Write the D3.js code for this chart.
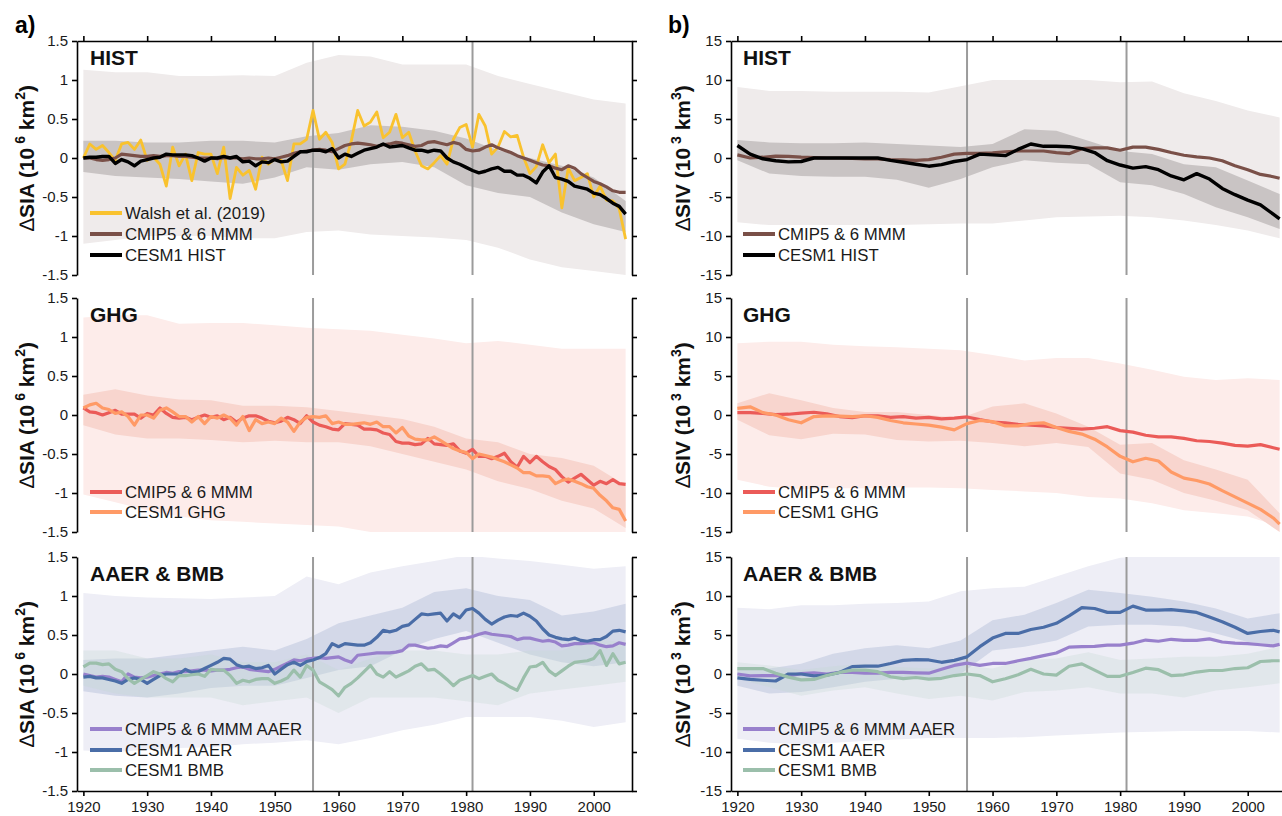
<!DOCTYPE html>
<html><head><meta charset="utf-8">
<script src="https://cdn.jsdelivr.net/npm/d3@7"></script>
<style>
body{margin:0;background:#fff}
svg text{font-family:"Liberation Sans",Arial,Helvetica,sans-serif}
</style>
</head><body>
<svg id="c" width="1282" height="816"></svg>
<script>
// ---------- categories ----------
const yearsAnnual = d3.range(1920, 2006);
const yearsSIV = [1920,1922,1924,1926,1928,1930,1932,1934,1936,1938,1940,1942,1944,1946,1948,1950,1952,1954,1956,1958,
  1960,1962,1964,1966,1968,1970,1972,1974,1976,1978,1980,1982,1984,1986,1988,1990,1992,1994,1996,1998,2000,2002,2004,2005];
const yearsBand = [1920,1925,1930,1935,1940,1945,1950,1955,1960,1965,1970,1975,1980,1985,1990,1995,2000,2005];
const markYears = [1956, 1981];
const xTickYears = [1920,1930,1940,1950,1960,1970,1980,1990,2000];
const siaTicks = [-1.5,-1,-0.5,0,0.5,1,1.5];
const siaTickLabels = ["-1.5","-1","-0.5","0","0.5","1","1.5"];
const sivTicks = [-15,-10,-5,0,5,10,15];
const sivTickLabels = ["-15","-10","-5","0","5","10","15"];

// ---------- HIST: sea ice area (10^6 km2) ----------
const walshSIA = [0.0,0.18,0.11,0.16,0.07,-0.03,0.18,0.2,0.11,0.23,
 -0.03,0.01,-0.08,-0.36,0.14,-0.1,0.05,-0.29,0.07,0.05,
 0.05,-0.2,0.14,-0.52,-0.12,-0.22,-0.16,-0.4,0.01,-0.08,
 -0.01,-0.03,-0.29,0.18,0.18,0.24,0.61,0.24,0.33,0.2,
 -0.14,-0.08,0.22,0.61,0.41,0.46,0.59,0.26,0.33,0.56,
 0.26,0.33,0.09,-0.1,-0.14,-0.06,0.03,-0.08,0.24,0.39,
 0.43,0.14,0.56,0.41,0.05,0.14,0.34,0.27,0.29,0.01,
 -0.2,-0.11,0.17,-0.06,0.05,-0.64,-0.13,-0.29,-0.25,-0.2,
 -0.5,-0.36,-0.54,-0.55,-0.65,-1.04];
const cmipHistSIA = [0.0,0.0,-0.02,-0.03,-0.02,0.0,0.05,0.04,0.03,0.02,
 0.02,0.03,0.02,0.03,0.03,0.02,0.02,0.01,0.0,0.0,
 0.0,-0.01,0.0,0.0,0.0,-0.01,0.0,-0.01,-0.01,0.0,
 -0.01,0.01,0.03,0.06,0.08,0.09,0.1,0.11,0.1,0.08,
 0.12,0.16,0.18,0.19,0.18,0.17,0.15,0.17,0.18,0.2,
 0.19,0.17,0.15,0.16,0.2,0.21,0.19,0.17,0.2,0.18,
 0.11,0.09,0.1,0.14,0.17,0.13,0.1,0.07,0.03,0.0,
 -0.03,-0.06,-0.09,-0.1,-0.13,-0.15,-0.1,-0.13,-0.2,-0.25,
 -0.3,-0.33,-0.37,-0.42,-0.44,-0.44];
const cesmHistSIA = [0.0,0.01,0.01,0.02,0.02,-0.07,-0.02,-0.05,-0.1,-0.04,
 -0.02,0.0,0.01,0.05,0.04,0.04,0.04,0.03,0.0,-0.04,
 0.0,0.0,0.02,0.0,0.02,-0.05,-0.04,-0.1,-0.05,-0.06,
 -0.02,-0.05,-0.04,0.02,0.08,0.08,0.1,0.1,0.08,0.12,
 0.0,0.05,0.02,0.06,0.1,0.12,0.14,0.18,0.14,0.15,
 0.16,0.13,0.1,0.1,0.08,0.1,0.09,0.0,-0.05,-0.08,
 -0.12,-0.16,-0.19,-0.17,-0.14,-0.12,-0.17,-0.17,-0.22,-0.22,
 -0.26,-0.32,-0.18,-0.1,-0.25,-0.27,-0.3,-0.36,-0.38,-0.4,
 -0.45,-0.47,-0.52,-0.58,-0.62,-0.72];
const histSiaOuterHi = [1.13,1.1,1.1,1.05,1.05,1.06,1.05,1.22,1.32,1.3,1.2,1.2,1.2,1.05,0.95,0.85,0.75,0.7];
const histSiaOuterLo = [-1.1,-1.05,-1.0,-1.0,-1.0,-1.03,-1.03,-0.95,-0.93,-0.98,-1.0,-1.02,-1.05,-1.15,-1.3,-1.4,-1.45,-1.5];
const histSiaInnerHi = [0.22,0.22,0.2,0.2,0.22,0.22,0.2,0.28,0.32,0.42,0.4,0.35,0.25,0.1,0.0,-0.1,-0.25,-0.55];
const histSiaInnerLo = [-0.18,-0.23,-0.25,-0.27,-0.3,-0.33,-0.25,-0.12,-0.15,-0.08,-0.05,-0.12,-0.35,-0.45,-0.5,-0.7,-0.85,-0.95];

// ---------- HIST: sea ice volume (10^3 km3) ----------
const cmipHistSIV = [0.4,0.0,0.1,0.25,0.2,0.1,0.05,0.0,0.0,-0.05,
 -0.1,-0.1,-0.2,-0.25,-0.3,-0.2,0.1,0.5,0.6,0.6,
 0.65,0.8,0.9,0.9,0.9,0.7,0.55,1.2,1.3,1.3,
 1.0,1.4,1.4,1.1,0.7,0.35,0.15,0.0,-0.35,-1.0,
 -1.5,-2.1,-2.4,-2.6];
const cesmHistSIV = [1.6,0.5,-0.1,-0.35,-0.5,-0.45,0.0,0.0,0.0,0.0,
 0.0,0.0,-0.3,-0.55,-0.8,-1.05,-0.85,-0.45,-0.2,0.5,
 0.4,0.3,1.1,1.8,1.5,1.5,1.45,1.2,0.7,-0.35,
 -0.9,-1.3,-1.1,-1.5,-2.3,-2.8,-2.0,-2.7,-3.9,-4.7,
 -5.4,-6.0,-7.2,-7.8];
const histSivOuterHi = [9.1,8.6,8.6,8.5,8.5,8.5,8.4,9.2,10.0,10.0,10.0,10.0,9.7,9.8,8.3,7.3,6.1,5.2];
const histSivOuterLo = [-8.25,-8.6,-8.6,-8.6,-8.6,-8.6,-8.5,-8.4,-8.4,-8.0,-7.6,-7.5,-7.4,-7.6,-8.0,-8.6,-9.3,-10.3];
const histSivInnerHi = [2.3,2.0,1.9,1.9,2.0,1.8,1.6,1.4,1.8,3.7,3.5,2.2,0.9,0.5,-0.8,-1.2,-2.9,-4.6];
const histSivInnerLo = [-0.3,-2.0,-2.3,-2.4,-2.4,-2.8,-3.8,-2.7,-1.2,-0.3,-0.6,-0.8,-3.1,-3.5,-4.6,-6.3,-7.6,-9.1];

// ---------- GHG: sea ice area ----------
const cmipGhgSIA = [0.09,0.04,0.03,0.0,0.03,0.06,0.01,0.01,0.01,-0.04,
 0.02,0.0,0.09,0.02,-0.03,-0.04,-0.03,-0.06,-0.03,0.0,
 -0.03,-0.01,-0.06,-0.03,-0.09,-0.04,-0.01,-0.01,-0.04,-0.08,
 -0.1,-0.08,-0.03,-0.06,-0.11,-0.01,-0.09,-0.13,-0.15,-0.18,
 -0.19,-0.11,-0.12,-0.13,-0.18,-0.18,-0.19,-0.23,-0.25,-0.34,
 -0.36,-0.36,-0.38,-0.37,-0.3,-0.37,-0.38,-0.39,-0.37,-0.46,
 -0.49,-0.44,-0.53,-0.53,-0.56,-0.53,-0.49,-0.6,-0.67,-0.53,
 -0.61,-0.53,-0.6,-0.66,-0.7,-0.79,-0.86,-0.81,-0.76,-0.83,
 -0.9,-0.85,-0.88,-0.83,-0.88,-0.89];
const cesmGhgSIA = [0.09,0.13,0.15,0.09,0.07,0.02,0.04,-0.02,-0.13,0.0,
 0.0,-0.04,0.06,0.09,0.04,-0.02,-0.02,-0.09,-0.02,-0.11,
 -0.02,-0.04,0.0,-0.04,-0.13,-0.02,-0.2,-0.06,-0.11,-0.09,
 -0.11,-0.04,-0.09,-0.21,-0.09,-0.03,-0.02,-0.03,-0.01,-0.11,
 -0.09,-0.12,-0.12,-0.11,-0.1,-0.12,-0.09,-0.15,-0.15,-0.23,
 -0.16,-0.27,-0.31,-0.32,-0.32,-0.28,-0.33,-0.38,-0.43,-0.46,
 -0.48,-0.56,-0.5,-0.52,-0.54,-0.57,-0.6,-0.64,-0.68,-0.74,
 -0.74,-0.78,-0.78,-0.79,-0.88,-0.84,-0.82,-0.85,-0.88,-0.92,
 -0.94,-1.03,-1.1,-1.19,-1.21,-1.36];
const ghgSiaOuterHi = [1.25,1.28,1.28,1.17,1.18,1.18,1.15,1.12,1.1,1.08,1.03,0.98,0.92,0.95,0.9,0.85,0.85,0.85];
const ghgSiaOuterLo = [-1.02,-1.12,-1.22,-1.3,-1.35,-1.37,-1.39,-1.41,-1.43,-1.5,-1.55,-1.55,-1.55,-1.55,-1.55,-1.55,-1.55,-1.55];
const ghgSiaInnerHi = [0.26,0.33,0.25,0.2,0.19,0.12,0.12,0.1,0.05,0.0,-0.05,-0.15,-0.3,-0.35,-0.5,-0.55,-0.65,-0.9];
const ghgSiaInnerLo = [-0.13,-0.25,-0.3,-0.3,-0.32,-0.35,-0.33,-0.35,-0.35,-0.4,-0.5,-0.6,-0.7,-0.85,-0.95,-1.1,-1.2,-1.45];

// ---------- GHG: sea ice volume ----------
const cmipGhgSIV = [0.3,0.3,0.2,0.05,0.1,0.25,0.35,0.15,-0.2,-0.35,
 -0.1,-0.1,-0.3,-0.2,-0.4,-0.3,-0.5,-0.4,-0.25,-0.6,
 -0.9,-1.0,-1.2,-1.3,-1.4,-1.6,-1.7,-1.8,-1.7,-1.5,
 -2.0,-2.2,-2.6,-2.8,-2.8,-3.0,-3.3,-3.4,-3.6,-3.9,
 -4.0,-3.8,-4.2,-4.4];
const cesmGhgSIV = [0.85,1.05,0.3,0.0,-0.6,-1.0,-0.2,-0.1,-0.15,-0.2,
 -0.1,-0.3,-0.7,-1.0,-1.15,-1.3,-1.55,-1.9,-1.1,-0.7,
 -0.85,-1.4,-1.4,-1.1,-1.0,-1.6,-2.1,-2.45,-3.1,-4.1,
 -5.3,-6.0,-5.55,-5.9,-7.3,-8.1,-8.4,-8.85,-9.7,-10.5,
 -11.3,-12.1,-13.2,-14.0];
const ghgSivOuterHi = [9.2,9.4,9.4,9.0,8.8,8.7,8.5,8.3,7.7,7.0,7.3,7.3,6.6,5.8,4.9,4.5,4.7,4.5];
const ghgSivOuterLo = [-8.3,-9.2,-9.5,-9.4,-9.4,-9.3,-9.3,-9.4,-9.6,-9.8,-10.0,-10.5,-10.7,-11.3,-12.2,-12.6,-13.0,-14.3];
const ghgSivInnerHi = [1.5,2.8,1.9,0.9,0.4,0.4,0.0,-0.4,1.1,1.5,0.2,-1.5,-3.8,-3.6,-5.8,-7.0,-8.3,-12.6];
const ghgSivInnerLo = [-0.6,-2.6,-3.1,-2.4,-2.5,-3.2,-3.4,-3.3,-3.6,-4.0,-3.6,-4.1,-7.5,-8.3,-10.0,-11.0,-12.2,-15.0];

// ---------- AAER & BMB: sea ice area ----------
const cmipAaerSIA = [0.0,-0.02,-0.04,-0.03,-0.04,-0.07,-0.1,0.0,-0.04,-0.05,
 -0.04,-0.02,0.0,0.02,0.01,0.03,0.03,0.04,0.05,0.05,
 0.04,0.05,0.05,0.06,0.08,0.09,0.06,0.05,0.04,0.03,
 0.06,0.1,0.14,0.18,0.17,0.19,0.2,0.21,0.2,0.21,
 0.22,0.18,0.15,0.24,0.25,0.26,0.27,0.27,0.27,0.28,
 0.3,0.37,0.37,0.35,0.33,0.34,0.36,0.35,0.4,0.45,
 0.46,0.48,0.51,0.53,0.51,0.5,0.49,0.48,0.44,0.46,
 0.46,0.44,0.42,0.43,0.41,0.36,0.37,0.39,0.39,0.4,
 0.4,0.37,0.35,0.36,0.4,0.38];
const cesmAaerSIA = [-0.04,-0.03,-0.05,-0.05,-0.07,-0.09,-0.12,-0.07,-0.05,-0.07,
 -0.12,-0.07,-0.02,0.0,0.0,0.0,0.06,0.02,0.03,0.07,
 0.11,0.15,0.2,0.19,0.12,0.09,0.1,0.07,0.08,0.11,
 0.0,0.06,0.12,0.15,0.11,0.16,0.18,0.21,0.26,0.39,
 0.35,0.39,0.38,0.37,0.37,0.4,0.47,0.56,0.54,0.56,
 0.61,0.63,0.7,0.77,0.76,0.77,0.78,0.68,0.77,0.72,
 0.82,0.84,0.78,0.7,0.64,0.69,0.73,0.75,0.74,0.78,
 0.74,0.68,0.58,0.5,0.47,0.45,0.44,0.46,0.43,0.42,
 0.44,0.44,0.48,0.55,0.56,0.54];
const cesmBmbSIA = [0.09,0.14,0.14,0.12,0.13,0.06,0.03,-0.06,-0.12,-0.07,
 -0.02,0.03,0.0,-0.06,-0.1,-0.02,-0.02,-0.01,0.0,-0.03,
 0.06,0.05,0.05,-0.02,-0.12,-0.08,-0.1,-0.07,-0.06,-0.06,
 -0.12,-0.09,-0.05,0.05,-0.04,0.11,0.05,-0.1,-0.15,-0.2,
 -0.28,-0.17,-0.12,-0.05,0.03,0.11,0.0,-0.04,0.03,-0.04,
 0.0,0.04,0.1,0.13,0.05,0.06,0.0,-0.07,-0.15,-0.08,
 -0.05,-0.02,-0.06,-0.03,0.0,-0.08,-0.12,-0.17,-0.21,-0.05,
 0.09,0.1,0.15,0.04,-0.02,0.04,0.1,0.15,0.16,0.17,
 0.2,0.3,0.11,0.26,0.13,0.15];
const aaerSiaOuterHi = [1.04,1.0,0.98,0.97,0.96,0.98,1.0,1.25,1.15,1.3,1.38,1.45,1.52,1.48,1.45,1.4,1.35,1.38];
const aaerSiaOuterLo = [-0.98,-1.0,-0.97,-0.95,-0.94,-0.9,-0.88,-0.85,-0.9,-0.82,-0.72,-0.65,-0.55,-0.55,-0.55,-0.6,-0.68,-0.62];
const aaerSiaBlueHi = [0.18,0.2,0.2,0.25,0.3,0.35,0.3,0.45,0.65,0.75,0.85,1.05,1.1,1.0,0.95,0.75,0.8,0.9];
const aaerSiaBlueLo = [-0.22,-0.28,-0.3,-0.25,-0.18,-0.15,-0.15,-0.05,0.05,0.1,0.3,0.45,0.55,0.4,0.25,0.15,0.1,0.15];
const bmbSiaHi = [0.3,0.3,0.2,0.2,0.25,0.15,0.15,0.25,0.05,0.2,0.3,0.3,0.25,0.25,0.3,0.3,0.45,0.4];
const bmbSiaLo = [-0.15,-0.25,-0.3,-0.3,-0.3,-0.4,-0.35,-0.3,-0.5,-0.3,-0.3,-0.3,-0.35,-0.4,-0.25,-0.2,-0.15,-0.1];

// ---------- AAER & BMB: sea ice volume ----------
const cmipAaerSIV = [0.0,-0.25,-0.2,-0.2,-0.25,0.05,0.15,0.0,0.2,0.2,
 0.1,0.1,0.2,0.2,0.15,0.1,0.6,1.1,1.4,1.1,
 1.35,1.35,1.7,2.0,2.35,2.7,3.45,3.5,3.55,3.7,
 3.7,3.95,4.35,4.2,4.45,4.3,4.3,4.5,4.1,3.95,
 3.9,3.75,3.6,3.8];
const cesmAaerSIV = [-0.5,-0.7,-0.8,-0.9,0.0,0.0,-0.25,-0.15,0.2,0.95,
 1.0,1.0,1.35,1.75,1.85,1.8,1.5,1.75,2.2,3.5,
 4.6,5.2,5.2,5.7,6.0,6.5,7.45,8.5,8.4,7.9,
 7.9,8.7,8.2,8.2,8.25,8.1,7.9,7.3,6.7,6.0,
 5.2,5.45,5.6,5.4];
const cesmBmbSIV = [0.7,0.7,0.7,0.1,-0.4,-0.75,-0.7,-0.2,0.2,0.5,
 0.5,0.3,-0.35,-0.6,-0.45,-0.65,-0.55,-0.2,0.0,-0.2,
 -1.0,-0.6,-0.1,0.6,0.0,-0.15,1.0,1.3,0.5,-0.3,
 -0.3,0.2,0.75,0.55,-0.2,-0.1,0.25,0.45,0.45,0.7,
 0.8,1.6,1.7,1.7];
const aaerSivOuterHi = [8.5,8.3,8.8,8.8,9.0,9.1,9.3,10.6,11.0,11.2,12.5,13.8,14.9,15.2,15.2,15.2,15.2,15.2];
const aaerSivOuterLo = [-8.3,-8.8,-9.0,-8.8,-8.6,-8.4,-8.2,-8.2,-8.2,-8.1,-7.9,-7.7,-7.5,-7.4,-7.3,-7.3,-7.3,-7.5];
const aaerSivBlueHi = [0.9,0.7,1.3,2.6,3.3,3.7,3.3,4.3,6.9,7.6,9.1,10.8,10.4,9.9,9.3,8.4,7.1,7.8];
const aaerSivBlueLo = [-1.5,-2.5,-2.3,-1.7,-1.0,-0.6,-0.6,0.0,3.0,3.5,4.3,6.1,6.3,6.3,6.1,5.2,4.1,3.7];
const bmbSivHi = [1.5,1.1,0.5,1.0,1.3,0.9,0.7,1.1,0.7,1.8,2.0,2.8,1.8,2.0,2.2,2.2,2.6,3.5];
const bmbSivLo = [-0.6,-1.7,-2.8,-2.1,-1.7,-2.5,-3.2,-2.8,-3.4,-2.3,-2.1,-1.7,-2.5,-2.5,-3.0,-2.1,-1.7,-1.2];

// ---------- colours ----------
const C = {
  walsh:"#f9c22e", brown:"#7a5048", black:"#000000",
  red:"#eb5b58", orange:"#ff9a66",
  purple:"#9880cc", blue:"#4a6da7", green:"#9bbfab",
  histOuter:"#efebeb", histInner:"#c9c4c4",
  ghgOuter:"#fdecea", ghgInner:"#f8d5ce",
  aaerOuter:"#eeeef6", aaerBlue:"#aab6d4", aaerGreen:"#c4d8cf"
};

// ---------- layout ----------
const svg = d3.select("#c");
const colX = [[77,632],[731,1286]];
const rowY = [[41,275],[298,532],[557,791]];
const xDomain = [1919, 2006];
const FONT = '"Liberation Sans",Arial,Helvetica,sans-serif';

const panels = [
 {col:0,row:0,title:"HIST",kind:"SIA",
  bands:[{y:yearsBand,lo:histSiaOuterLo,hi:histSiaOuterHi,fill:C.histOuter},
         {y:yearsBand,lo:histSiaInnerLo,hi:histSiaInnerHi,fill:C.histInner}],
  lines:[{y:yearsAnnual,v:walshSIA,c:C.walsh,w:2.8,label:"Walsh et al. (2019)"},
         {y:yearsAnnual,v:cmipHistSIA,c:C.brown,w:3.2,label:"CMIP5 & 6 MMM"},
         {y:yearsAnnual,v:cesmHistSIA,c:C.black,w:3.4,label:"CESM1 HIST"}],
  legendY:[213,234,255]},
 {col:1,row:0,title:"HIST",kind:"SIV",
  bands:[{y:yearsBand,lo:histSivOuterLo,hi:histSivOuterHi,fill:C.histOuter},
         {y:yearsBand,lo:histSivInnerLo,hi:histSivInnerHi,fill:C.histInner}],
  lines:[{y:yearsSIV,v:cmipHistSIV,c:C.brown,w:3.2,label:"CMIP5 & 6 MMM"},
         {y:yearsSIV,v:cesmHistSIV,c:C.black,w:3.4,label:"CESM1 HIST"}],
  legendY:[234,255]},
 {col:0,row:1,title:"GHG",kind:"SIA",
  bands:[{y:yearsBand,lo:ghgSiaOuterLo,hi:ghgSiaOuterHi,fill:C.ghgOuter},
         {y:yearsBand,lo:ghgSiaInnerLo,hi:ghgSiaInnerHi,fill:C.ghgInner}],
  lines:[{y:yearsAnnual,v:cmipGhgSIA,c:C.red,w:3.2,label:"CMIP5 & 6 MMM"},
         {y:yearsAnnual,v:cesmGhgSIA,c:C.orange,w:3.2,label:"CESM1 GHG"}],
  legendY:[492,512]},
 {col:1,row:1,title:"GHG",kind:"SIV",
  bands:[{y:yearsBand,lo:ghgSivOuterLo,hi:ghgSivOuterHi,fill:C.ghgOuter},
         {y:yearsBand,lo:ghgSivInnerLo,hi:ghgSivInnerHi,fill:C.ghgInner}],
  lines:[{y:yearsSIV,v:cmipGhgSIV,c:C.red,w:3.2,label:"CMIP5 & 6 MMM"},
         {y:yearsSIV,v:cesmGhgSIV,c:C.orange,w:3.2,label:"CESM1 GHG"}],
  legendY:[492,512]},
 {col:0,row:2,title:"AAER & BMB",kind:"SIA",
  bands:[{y:yearsBand,lo:aaerSiaOuterLo,hi:aaerSiaOuterHi,fill:C.aaerOuter},
         {y:yearsBand,lo:aaerSiaBlueLo,hi:aaerSiaBlueHi,fill:C.aaerBlue,op:0.4},
         {y:yearsBand,lo:bmbSiaLo,hi:bmbSiaHi,fill:C.aaerGreen,op:0.3}],
  lines:[{y:yearsAnnual,v:cmipAaerSIA,c:C.purple,w:3.2,label:"CMIP5 & 6 MMM AAER"},
         {y:yearsAnnual,v:cesmAaerSIA,c:C.blue,w:3.2,label:"CESM1 AAER"},
         {y:yearsAnnual,v:cesmBmbSIA,c:C.green,w:3.2,label:"CESM1 BMB"}],
  legendY:[729,750,770]},
 {col:1,row:2,title:"AAER & BMB",kind:"SIV",
  bands:[{y:yearsBand,lo:aaerSivOuterLo,hi:aaerSivOuterHi,fill:C.aaerOuter},
         {y:yearsBand,lo:aaerSivBlueLo,hi:aaerSivBlueHi,fill:C.aaerBlue,op:0.4},
         {y:yearsBand,lo:bmbSivLo,hi:bmbSivHi,fill:C.aaerGreen,op:0.3}],
  lines:[{y:yearsSIV,v:cmipAaerSIV,c:C.purple,w:3.2,label:"CMIP5 & 6 MMM AAER"},
         {y:yearsSIV,v:cesmAaerSIV,c:C.blue,w:3.2,label:"CESM1 AAER"},
         {y:yearsSIV,v:cesmBmbSIV,c:C.green,w:3.2,label:"CESM1 BMB"}],
  legendY:[729,750,770]}
];

const defs = svg.append("defs");

function styleAxis(g){
  g.attr("font-size",null).attr("font-family",null);
  g.select(".domain").attr("stroke","#000").attr("stroke-width",1.6);
  g.selectAll(".tick line").attr("stroke","#000").attr("stroke-width",1.6);
  g.selectAll(".tick text").attr("font-size",15).attr("fill","#1a1a1a").attr("font-family",FONT);
}

panels.forEach((p,pi)=>{
  const [x0,x1] = colX[p.col], [y0,y1] = rowY[p.row];
  const x = d3.scaleLinear().domain(xDomain).range([x0,x1]);
  const lim = p.kind==="SIA" ? 1.5 : 15;
  const y = d3.scaleLinear().domain([-lim,lim]).range([y1,y0]);
  const id = "clip"+pi;
  defs.append("clipPath").attr("id",id).append("rect")
    .attr("x",x0).attr("y",y0).attr("width",x1-x0).attr("height",y1-y0);
  const g = svg.append("g");
  const gc = g.append("g").attr("clip-path",`url(#${id})`);

  p.bands.forEach(b=>{
    const area = d3.area()
      .x((d,i)=>x(b.y[i])).y0((d,i)=>y(b.lo[i])).y1((d,i)=>y(b.hi[i]));
    gc.append("path").datum(b.lo).attr("d",area)
      .attr("fill",b.fill).attr("fill-opacity",b.op||1).attr("stroke","none");
  });
  markYears.forEach(m=>{
    gc.append("line").attr("x1",x(m)).attr("x2",x(m)).attr("y1",y0).attr("y2",y1)
      .attr("stroke","#9b9b9b").attr("stroke-width",2);
  });
  p.lines.forEach(l=>{
    const line = d3.line().x((d,i)=>x(l.y[i])).y(d=>y(d));
    gc.append("path").datum(l.v).attr("d",line).attr("fill","none")
      .attr("stroke",l.c).attr("stroke-width",l.w)
      .attr("stroke-linejoin","round").attr("stroke-linecap","butt");
  });

  // axes
  const ticks = p.kind==="SIA" ? siaTicks : sivTicks;
  const tlabels = p.kind==="SIA" ? siaTickLabels : sivTickLabels;
  const ay = g.append("g").attr("transform",`translate(${x0},0)`)
    .call(d3.axisLeft(y).tickValues(ticks).tickFormat((d,i)=>tlabels[i])
      .tickSize(5).tickSizeOuter(0).tickPadding(4));
  styleAxis(ay);
  const ar = g.append("g").attr("transform",`translate(${x1},0)`)
    .call(d3.axisRight(y).tickValues(ticks).tickFormat("").tickSize(5).tickSizeOuter(0));
  styleAxis(ar);
  if(p.row===0){
    const at = g.append("g").attr("transform",`translate(0,${y0})`)
      .call(d3.axisTop(x).tickValues(xTickYears).tickFormat("").tickSize(5).tickSizeOuter(0));
    styleAxis(at);
  }
  if(p.row===2){
    const ab = g.append("g").attr("transform",`translate(0,${y1})`)
      .call(d3.axisBottom(x).tickValues(xTickYears).tickFormat(d=>String(d))
        .tickSize(5).tickSizeOuter(0).tickPadding(5));
    styleAxis(ab);
  }

  // y title
  const cy = (y0+y1)/2;
  const tx = p.col===0 ? 34 : 690;
  const t = g.append("text").attr("transform",`translate(${tx},${cy}) rotate(-90)`)
    .attr("text-anchor","middle").attr("font-size",21).attr("font-weight","bold").attr("fill","#111");
  t.append("tspan").attr("font-weight","normal").text("\u2206");
  const sup1 = p.kind==="SIA" ? "6" : "3";
  const sup2 = p.kind==="SIA" ? "2" : "3";
  t.append("tspan").text(p.kind + " (10");
  t.append("tspan").attr("dy",-9).attr("font-size",14).text(" " + sup1);
  t.append("tspan").attr("dy",9).text(" km");
  t.append("tspan").attr("dy",-9).attr("font-size",14).text(sup2);
  t.append("tspan").attr("dy",9).text(")");

  // panel title
  const lx = p.col===0 ? 90 : 743;
  g.append("text").attr("x",lx).attr("y",y0+24).attr("font-size",21)
    .attr("font-weight","bold").attr("fill","#111").text(p.title);

  // legend
  p.lines.forEach((l,i)=>{
    const ly = p.legendY[i];
    g.append("line").attr("x1",lx).attr("x2",lx+32).attr("y1",ly).attr("y2",ly)
      .attr("stroke",l.c).attr("stroke-width",4);
    g.append("text").attr("x",lx+35).attr("y",ly).attr("dy","0.36em")
      .attr("font-size",16.8).attr("fill","#1a1a1a").text(l.label);
  });
});

// panel letters
svg.append("text").attr("x",15).attr("y",33).attr("font-size",23).attr("font-weight","bold").text("a)");
svg.append("text").attr("x",668).attr("y",33).attr("font-size",23).attr("font-weight","bold").text("b)");
</script>
</body></html>
